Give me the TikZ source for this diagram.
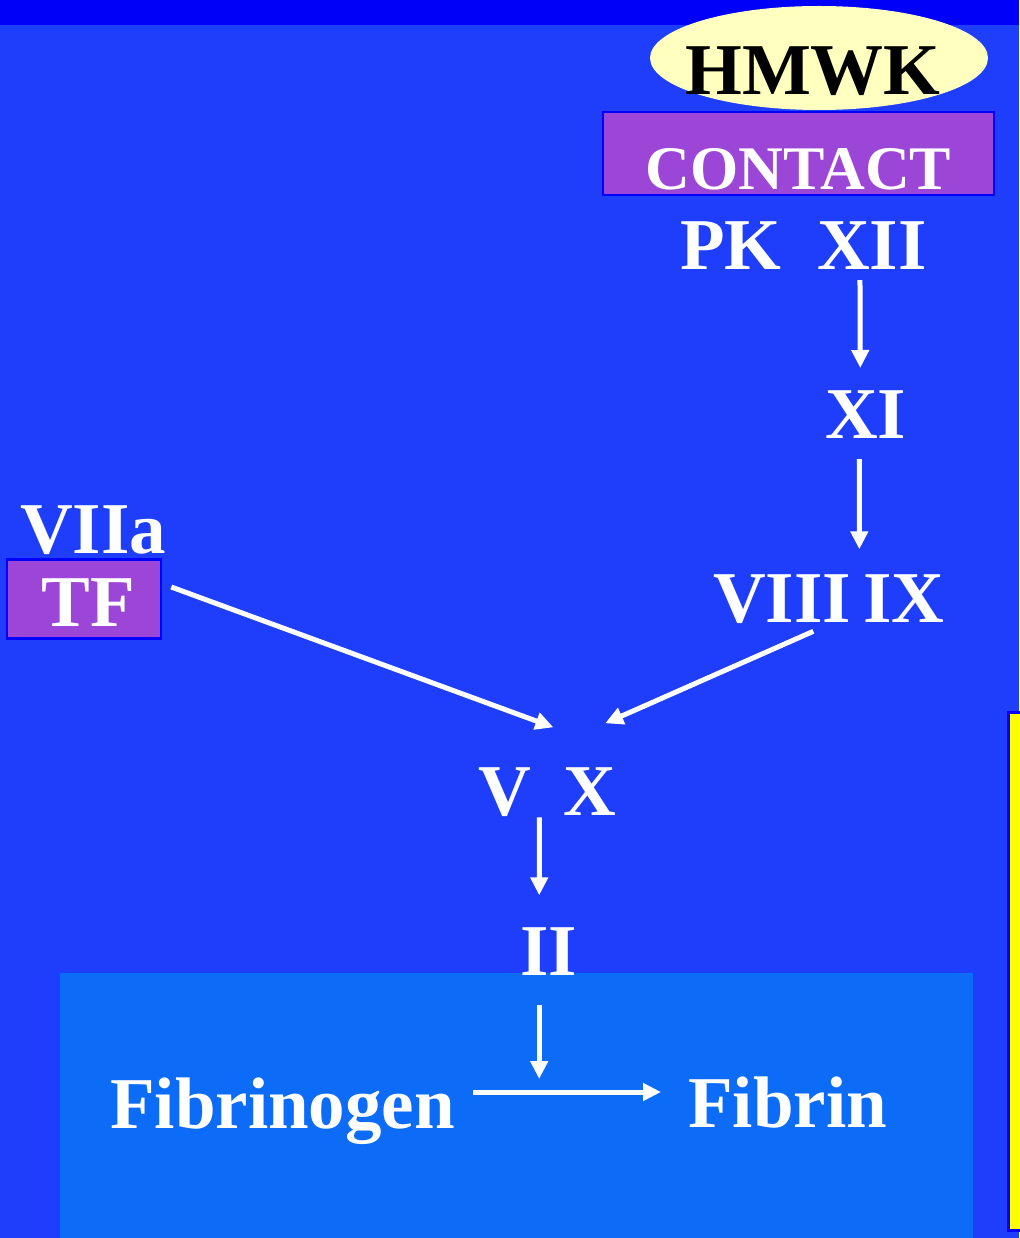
\documentclass[tikz,border=0pt]{standalone}
\usepackage{fontspec}
\setmainfont{Liberation Serif}
\usetikzlibrary{arrows.meta,shapes.geometric}
\newcommand\slidefont{\bfseries\fontsize{73}{80}\selectfont}
\newcommand\boxfont{\bfseries\fontsize{62}{68}\selectfont}
\definecolor{bgblue}{RGB}{30,62,252}
\definecolor{barblue}{RGB}{0,0,250}
\definecolor{edgeblue}{RGB}{0,0,255}
\definecolor{lowblue}{RGB}{12,108,248}
\definecolor{boxpurple}{RGB}{155,70,215}
\definecolor{paleyellow}{RGB}{255,255,192}
\definecolor{sideyellow}{RGB}{255,255,0}
\tikzset{
  lbl/.style={anchor=base west, inner sep=0pt, text=white, font=\slidefont},
  tag/.style={rectangle, fill=boxpurple, draw=edgeblue, line width=2.5pt,
              inner sep=0pt, text=white},
  arr/.style={draw=white, line width=5pt,
              -{Triangle[length=18pt,width=17pt]}},
}
\begin{document}
\begin{tikzpicture}[x=1pt,y=-1pt]
  % backdrop
  \fill[bgblue] (0,0) rectangle (1019,1238);
  \useasboundingbox (0,0) rectangle (1019,1238);
  \fill[barblue] (0,0) rectangle (1019,25);
  \fill[lowblue] (60,973) rectangle (973,1238);
  \filldraw[fill=sideyellow, draw=edgeblue, line width=3pt] (1008,712) rectangle (1022,1230);

  % contact system
  \node[ellipse, fill=paleyellow, minimum width=338pt, minimum height=104pt,
        inner sep=0pt] (hmwk) at (819,58) {};
  \node[anchor=base, inner sep=0pt, text=black, font=\slidefont] (hmwktext)
        at (813,95) {HMWK};
  \node[tag, minimum width=391pt, minimum height=83pt, font=\boxfont] (contact)
        at (798.5,153.5) {\raisebox{-16pt}[\height][\depth]{CONTACT}};
  \node[lbl] (pk)  at (680,270) {PK};
  \node[lbl] (xii) at (817,270) {XII};
  \node[lbl] (xi)  at (825,438) {XI};
  \node[lbl] (viii) at (713,622) {VIII};
  \node[lbl] (ix)  at (863,622) {IX};

  % tissue factor
  \node[lbl] (viia) at (20,553) {VIIa};
  \node[tag, minimum width=154pt, minimum height=79pt, font=\slidefont] (tfbox)
        at (84,599) {\raisebox{-4pt}[\height][\depth]{TF}\kern-8pt};

  % common pathway
  \node[lbl] (v)  at (478,815) {V};
  \node[lbl] (x)  at (563,815) {X};
  \node[lbl] (ii) at (520,975) {II};
  \node[lbl] (fibrinogen) at (110,1128) {Fibrinogen};
  \node[lbl] (fibrin) at (688,1127) {Fibrin};

  % cascade arrows
  \draw[arr] ([xshift=-12pt,yshift=-10pt]xii.south) -- ([xshift=-5.5pt,yshift=22pt]xi.north);
  \draw[arr] ([xshift=-6.5pt,yshift=-21pt]xi.south) -- ([xshift=8pt,yshift=24.7pt]viii.north east);
  \draw[arr] ([xshift=9pt,yshift=12pt]tfbox.east) -- ([xshift=22.3pt,yshift=39.7pt]v.north east);
  \draw[arr] ([xshift=-38pt,yshift=-8pt]viii.south east) -- ([xshift=15.6pt,yshift=43.7pt]x.north);
  \draw[arr] ([xshift=8.3pt,yshift=-1pt]v.south east) -- ([xshift=-9.4pt,yshift=31.7pt]ii.north);
  \draw[arr] ([xshift=18pt,yshift=36pt]fibrinogen.base east)
     -- coordinate[pos=0.351] (conv) ([xshift=-27pt,yshift=35pt]fibrin.base west);
  \coordinate (iistart) at ([xshift=-9.4pt,yshift=-30pt]ii.south);
  \draw[arr] (iistart) -- ([yshift=13pt]iistart |- conv);
\end{tikzpicture}
\end{document}
